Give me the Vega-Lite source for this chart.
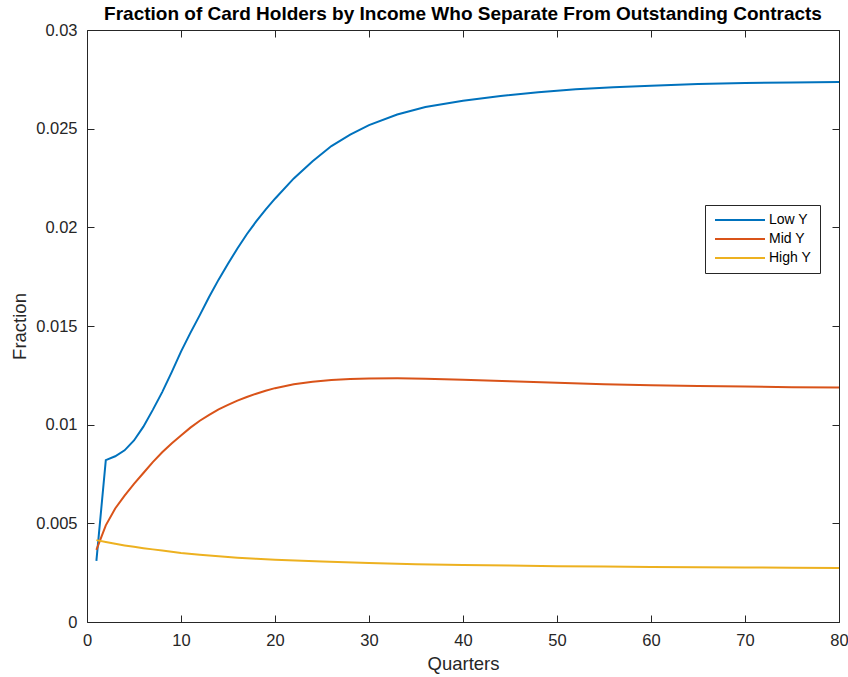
{
  "$schema": "https://vega.github.io/schema/vega-lite/v6.json",
  "width": 752,
  "height": 592,
  "autosize": {"type": "none"},
  "padding": {"left": 87, "top": 30, "right": 9, "bottom": 55},
  "background": "white",
  "title": {
    "text": "Fraction of Card Holders by Income Who Separate From Outstanding Contracts",
    "font": "Liberation Sans",
    "fontSize": 19,
    "fontWeight": "bold",
    "color": "#000000",
    "anchor": "middle",
    "offset": -2
  },
  "config": {
    "font": "Liberation Sans",
    "view": {"stroke": "#262626", "strokeWidth": 1},
    "axis": {
      "domain": false,
      "grid": false,
      "labelFlush": false,
      "tickColor": "#262626",
      "tickSize": -7,
      "tickWidth": 1,
      "labelFont": "Liberation Sans",
      "labelFontSize": 16.5,
      "labelColor": "#262626",
      "titleFont": "Liberation Sans",
      "titleFontSize": 18.5,
      "titleFontWeight": "normal",
      "titleColor": "#262626"
    },
    "legend": {
      "orient": "none",
      "legendX": 618,
      "legendY": 175,
      "strokeColor": "#262626",
      "fillColor": "white",
      "padding": 8,
      "symbolType": "M-1,0H9",
      "symbolSize": 100,
      "symbolStrokeWidth": 2,
      "labelFont": "Liberation Sans",
      "labelFontSize": 14,
      "labelColor": "#000000",
      "labelOffset": 42,
      "rowPadding": 5
    }
  },
  "data": {
    "values": [
      {"q": 1, "s": "Low Y", "v": 0.00310},
      {"q": 2, "s": "Low Y", "v": 0.00820},
      {"q": 3, "s": "Low Y", "v": 0.00840},
      {"q": 4, "s": "Low Y", "v": 0.00870},
      {"q": 5, "s": "Low Y", "v": 0.00920},
      {"q": 6, "s": "Low Y", "v": 0.00990},
      {"q": 7, "s": "Low Y", "v": 0.01075},
      {"q": 8, "s": "Low Y", "v": 0.01165},
      {"q": 9, "s": "Low Y", "v": 0.01265},
      {"q": 10, "s": "Low Y", "v": 0.01370},
      {"q": 11, "s": "Low Y", "v": 0.01465},
      {"q": 12, "s": "Low Y", "v": 0.01555},
      {"q": 13, "s": "Low Y", "v": 0.01648},
      {"q": 14, "s": "Low Y", "v": 0.01735},
      {"q": 15, "s": "Low Y", "v": 0.01815},
      {"q": 16, "s": "Low Y", "v": 0.01893},
      {"q": 17, "s": "Low Y", "v": 0.01965},
      {"q": 18, "s": "Low Y", "v": 0.02030},
      {"q": 19, "s": "Low Y", "v": 0.02090},
      {"q": 20, "s": "Low Y", "v": 0.02145},
      {"q": 22, "s": "Low Y", "v": 0.02248},
      {"q": 24, "s": "Low Y", "v": 0.02335},
      {"q": 26, "s": "Low Y", "v": 0.02412},
      {"q": 28, "s": "Low Y", "v": 0.02470},
      {"q": 30, "s": "Low Y", "v": 0.02518},
      {"q": 33, "s": "Low Y", "v": 0.02572},
      {"q": 36, "s": "Low Y", "v": 0.02610},
      {"q": 40, "s": "Low Y", "v": 0.02642},
      {"q": 44, "s": "Low Y", "v": 0.02666},
      {"q": 48, "s": "Low Y", "v": 0.02685},
      {"q": 52, "s": "Low Y", "v": 0.02700},
      {"q": 56, "s": "Low Y", "v": 0.02710},
      {"q": 60, "s": "Low Y", "v": 0.02718},
      {"q": 65, "s": "Low Y", "v": 0.02726},
      {"q": 70, "s": "Low Y", "v": 0.02731},
      {"q": 75, "s": "Low Y", "v": 0.02734},
      {"q": 80, "s": "Low Y", "v": 0.02736},
      {"q": 1, "s": "Mid Y", "v": 0.00365},
      {"q": 2, "s": "Mid Y", "v": 0.00490},
      {"q": 3, "s": "Mid Y", "v": 0.00575},
      {"q": 4, "s": "Mid Y", "v": 0.00640},
      {"q": 5, "s": "Mid Y", "v": 0.00700},
      {"q": 6, "s": "Mid Y", "v": 0.00755},
      {"q": 7, "s": "Mid Y", "v": 0.00810},
      {"q": 8, "s": "Mid Y", "v": 0.00860},
      {"q": 9, "s": "Mid Y", "v": 0.00905},
      {"q": 10, "s": "Mid Y", "v": 0.00945},
      {"q": 11, "s": "Mid Y", "v": 0.00985},
      {"q": 12, "s": "Mid Y", "v": 0.01020},
      {"q": 13, "s": "Mid Y", "v": 0.01050},
      {"q": 14, "s": "Mid Y", "v": 0.01078},
      {"q": 15, "s": "Mid Y", "v": 0.01100},
      {"q": 16, "s": "Mid Y", "v": 0.01122},
      {"q": 17, "s": "Mid Y", "v": 0.01140},
      {"q": 18, "s": "Mid Y", "v": 0.01157},
      {"q": 19, "s": "Mid Y", "v": 0.01172},
      {"q": 20, "s": "Mid Y", "v": 0.01185},
      {"q": 22, "s": "Mid Y", "v": 0.01205},
      {"q": 24, "s": "Mid Y", "v": 0.01218},
      {"q": 26, "s": "Mid Y", "v": 0.01226},
      {"q": 28, "s": "Mid Y", "v": 0.01231},
      {"q": 30, "s": "Mid Y", "v": 0.01234},
      {"q": 33, "s": "Mid Y", "v": 0.01235},
      {"q": 36, "s": "Mid Y", "v": 0.01233},
      {"q": 40, "s": "Mid Y", "v": 0.01228},
      {"q": 45, "s": "Mid Y", "v": 0.01220},
      {"q": 50, "s": "Mid Y", "v": 0.01212},
      {"q": 55, "s": "Mid Y", "v": 0.01205},
      {"q": 60, "s": "Mid Y", "v": 0.01200},
      {"q": 65, "s": "Mid Y", "v": 0.01196},
      {"q": 70, "s": "Mid Y", "v": 0.01193},
      {"q": 75, "s": "Mid Y", "v": 0.01190},
      {"q": 80, "s": "Mid Y", "v": 0.01188},
      {"q": 1, "s": "High Y", "v": 0.00415},
      {"q": 2, "s": "High Y", "v": 0.00405},
      {"q": 3, "s": "High Y", "v": 0.00396},
      {"q": 4, "s": "High Y", "v": 0.00388},
      {"q": 5, "s": "High Y", "v": 0.00381},
      {"q": 6, "s": "High Y", "v": 0.00374},
      {"q": 7, "s": "High Y", "v": 0.00368},
      {"q": 8, "s": "High Y", "v": 0.00362},
      {"q": 9, "s": "High Y", "v": 0.00356},
      {"q": 10, "s": "High Y", "v": 0.00350},
      {"q": 12, "s": "High Y", "v": 0.00341},
      {"q": 14, "s": "High Y", "v": 0.00333},
      {"q": 16, "s": "High Y", "v": 0.00326},
      {"q": 18, "s": "High Y", "v": 0.00320},
      {"q": 20, "s": "High Y", "v": 0.00315},
      {"q": 25, "s": "High Y", "v": 0.00306},
      {"q": 30, "s": "High Y", "v": 0.00299},
      {"q": 35, "s": "High Y", "v": 0.00293},
      {"q": 40, "s": "High Y", "v": 0.00289},
      {"q": 45, "s": "High Y", "v": 0.00286},
      {"q": 50, "s": "High Y", "v": 0.00283},
      {"q": 55, "s": "High Y", "v": 0.00281},
      {"q": 60, "s": "High Y", "v": 0.00279},
      {"q": 65, "s": "High Y", "v": 0.00277},
      {"q": 70, "s": "High Y", "v": 0.00276},
      {"q": 75, "s": "High Y", "v": 0.00275},
      {"q": 80, "s": "High Y", "v": 0.00274}
    ]
  },
  "layer": [
    {
      "mark": {"type": "line", "strokeWidth": 2, "clip": true},
      "encoding": {
        "x": {
          "field": "q", "type": "quantitative",
          "scale": {"domain": [0, 80], "nice": false, "zero": false},
          "axis": {"orient": "bottom", "values": [0, 10, 20, 30, 40, 50, 60, 70, 80], "title": "Quarters", "labelPadding": 17, "titlePadding": 6}
        },
        "y": {
          "field": "v", "type": "quantitative",
          "scale": {"domain": [0, 0.03], "nice": false},
          "axis": {"orient": "left", "values": [0, 0.005, 0.01, 0.015, 0.02, 0.025, 0.03], "format": "~g", "title": "Fraction", "labelPadding": 17, "titlePadding": 6}
        },
        "color": {
          "field": "s", "type": "nominal",
          "scale": {"domain": ["Low Y", "Mid Y", "High Y"], "range": ["#0072BD", "#D95319", "#EDB120"]},
          "legend": {"title": null}
        }
      }
    },
    {
      "mark": {"type": "line", "opacity": 0},
      "encoding": {
        "x": {
          "field": "q", "type": "quantitative",
          "axis": {"orient": "top", "values": [0, 10, 20, 30, 40, 50, 60, 70, 80], "labels": false, "title": null}
        },
        "y": {
          "field": "v", "type": "quantitative",
          "axis": {"orient": "right", "values": [0, 0.005, 0.01, 0.015, 0.02, 0.025, 0.03], "labels": false, "title": null}
        },
        "detail": {"field": "s"}
      }
    }
  ],
  "resolve": {"axis": {"x": "independent", "y": "independent"}}
}
